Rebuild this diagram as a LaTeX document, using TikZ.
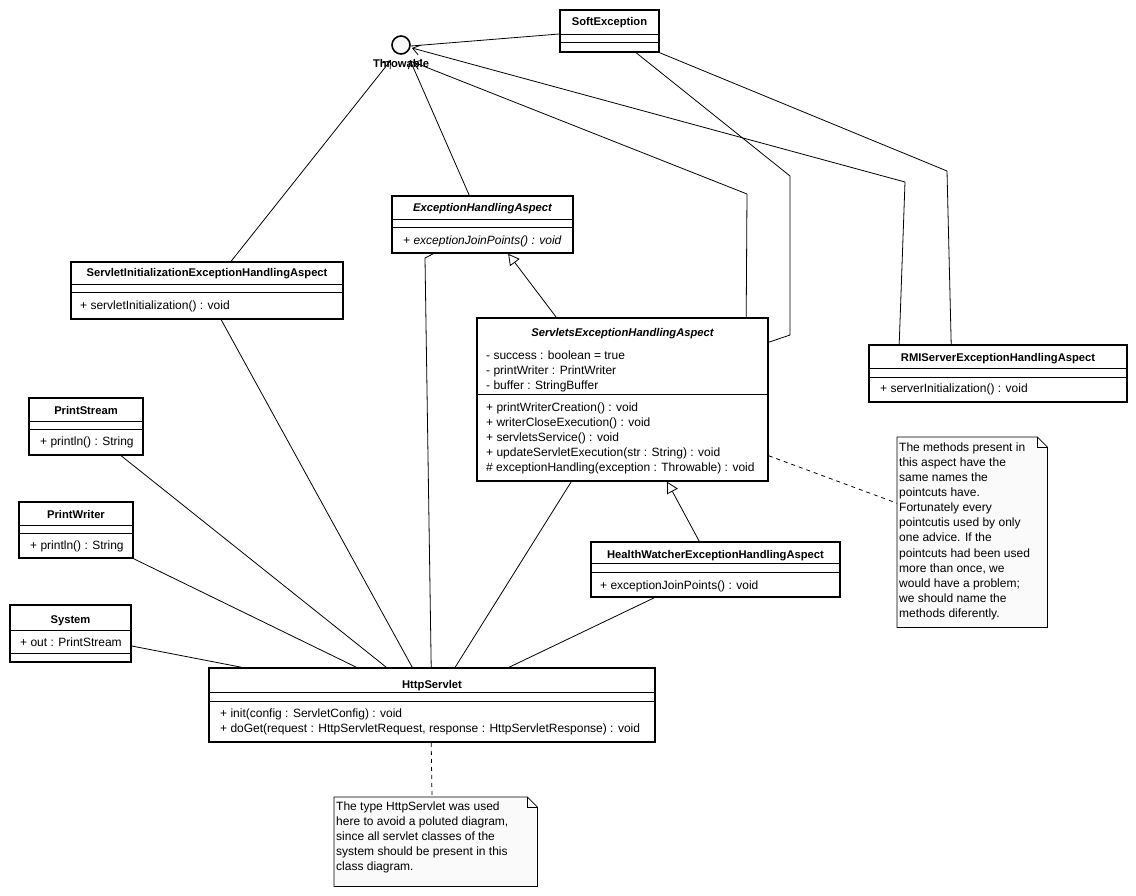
\documentclass[tikz,border=0pt]{standalone}
\usepackage{fontspec}
\setmainfont{Liberation Sans}
\usetikzlibrary{arrows.meta,calc}
\tikzset{
  cls/.style={draw, line width=1.6pt, inner sep=0pt, fill=white},
  sepl/.style={line width=0.9pt},
  ttl/.style={font=\fontsize{11.2}{13}\selectfont\bfseries, inner sep=0pt, anchor=base},
  ttli/.style={font=\fontsize{11.2}{13}\selectfont\bfseries\itshape, inner sep=0pt, anchor=base},
  mem/.style={font=\fontsize{12}{14}\selectfont, inner sep=0pt, anchor=base west},
  memi/.style={font=\fontsize{12}{14}\selectfont\itshape, inner sep=0pt, anchor=base west},
  link/.style={line width=0.8pt},
  dep/.style={link, -{Straight Barb[length=7pt,width=10pt]}},
  gen/.style={link, -{Triangle[open,length=11pt,width=12pt,fill=white]}},
  notel/.style={link, dash pattern=on 4pt off 4pt},
  notebox/.style={inner sep=0pt},
  notetxt/.style={font=\fontsize{12}{15.1}\selectfont, align=left, inner sep=0pt, anchor=north west},
}
\begin{document}
\begin{tikzpicture}[x=1pt,y=-1pt]
\useasboundingbox[fill=white] (0,0) rectangle (1136,896);

% ---------- Throwable interface ----------
\node[circle, draw, line width=1.6pt, minimum size=18pt, inner sep=0pt, fill=black!3] (thr) at (401,45) {};
\node[ttl] (thrl) at (401,68) {Throwable};

% ---------- classes ----------
\node[cls, minimum width=99pt, minimum height=42pt] (soft) at (609.5,31) {};
\draw[sepl] (soft.west |- 0,34) -- (soft.east |- 0,34);
\draw[sepl] (soft.west |- 0,42) -- (soft.east |- 0,42);
\node[ttl] (softt) at (609.5,26) {SoftException};

\node[cls, minimum width=181pt, minimum height=57pt] (eha) at (482.5,224.5) {};
\draw[sepl] (eha.west |- 0,219) -- (eha.east |- 0,219);
\draw[sepl] (eha.west |- 0,227) -- (eha.east |- 0,227);
\node[ttli] (ehat) at (482.5,212) {ExceptionHandlingAspect};
\node[memi] (eham) at (403,244.2) {+ exceptionJoinPoints() : void};

\node[cls, minimum width=272pt, minimum height=57pt] (sinit) at (207,290.5) {};
\draw[sepl] (sinit.west |- 0,284) -- (sinit.east |- 0,284);
\draw[sepl] (sinit.west |- 0,292) -- (sinit.east |- 0,292);
\node[ttl] (sinitt) at (207,277) {ServletInitializationExceptionHandlingAspect};
\node[mem] (sinitm) at (80,309.2) {+ servletInitialization() : void};

\node[cls, minimum width=291pt, minimum height=163pt] (seh) at (622.5,399.5) {};
\draw[sepl] (seh.west |- 0,394) -- (seh.east |- 0,394);
\node[ttli] (seht) at (622.5,336) {ServletsExceptionHandlingAspect};
\node[mem] (seha1) at (486,359.2) {- success : boolean = true};
\node[mem] (seha2) at (486,374.2) {- printWriter : PrintWriter};
\node[mem] (seha3) at (486,389.2) {- buffer : StringBuffer};
\node[mem] (sehm1) at (486,411.2) {+ printWriterCreation() : void};
\node[mem] (sehm2) at (486,426.2) {+ writerCloseExecution() : void};
\node[mem] (sehm3) at (486,441.2) {+ servletsService() : void};
\node[mem] (sehm4) at (486,456.2) {+ updateServletExecution(str : String) : void};
\node[mem] (sehm5) at (486,471.2) {\# exceptionHandling(exception : Throwable) : void};

\node[cls, minimum width=258pt, minimum height=57pt] (rmi) at (998,373.5) {};
\draw[sepl] (rmi.west |- 0,368) -- (rmi.east |- 0,368);
\draw[sepl] (rmi.west |- 0,377) -- (rmi.east |- 0,377);
\node[ttl] (rmit) at (998,361) {RMIServerExceptionHandlingAspect};
\node[mem] (rmim) at (880,392.2) {+ serverInitialization() : void};

\node[cls, minimum width=114pt, minimum height=57pt] (pstream) at (86,426.5) {};
\draw[sepl] (pstream.west |- 0,421) -- (pstream.east |- 0,421);
\draw[sepl] (pstream.west |- 0,429) -- (pstream.east |- 0,429);
\node[ttl] (pstreamt) at (86,414) {PrintStream};
\node[mem] (pstreamm) at (40,445.2) {+ println() : String};

\node[cls, minimum width=114pt, minimum height=56pt] (pwriter) at (76,530) {};
\draw[sepl] (pwriter.west |- 0,525) -- (pwriter.east |- 0,525);
\draw[sepl] (pwriter.west |- 0,533) -- (pwriter.east |- 0,533);
\node[ttl] (pwritert) at (76,518) {PrintWriter};
\node[mem] (pwriterm) at (30,549.2) {+ println() : String};

\node[cls, minimum width=121pt, minimum height=57pt] (system) at (70.5,633.5) {};
\draw[sepl] (system.west |- 0,630) -- (system.east |- 0,630);
\draw[sepl] (system.west |- 0,653) -- (system.east |- 0,653);
\node[ttl] (systemt) at (70.5,623) {System};
\node[mem] (systema) at (20,646.2) {+ out : PrintStream};

\node[cls, minimum width=249pt, minimum height=55pt] (hw) at (715.5,569.5) {};
\draw[sepl] (hw.west |- 0,563) -- (hw.east |- 0,563);
\draw[sepl] (hw.west |- 0,572) -- (hw.east |- 0,572);
\node[ttl] (hwt) at (715.5,558) {HealthWatcherExceptionHandlingAspect};
\node[mem] (hwm) at (600,589.2) {+ exceptionJoinPoints() : void};

\node[cls, minimum width=446pt, minimum height=74pt] (http) at (432,705) {};
\draw[sepl] (http.west |- 0,692) -- (http.east |- 0,692);
\draw[sepl] (http.west |- 0,701) -- (http.east |- 0,701);
\node[ttl] (httpt) at (432,688) {HttpServlet};
\node[mem] (httpm1) at (220,717.2) {+ init(config : ServletConfig) : void};
\node[mem] (httpm2) at (220,732.2) {+ doGet(request : HttpServletRequest, response : HttpServletResponse) : void};

% ---------- notes ----------
\node[notebox, minimum width=203pt, minimum height=89pt, anchor=north west] (note1) at (334,797) {};
\draw[line width=0.8pt, fill=black!2] (note1.north west) -- ($(note1.north east)+(-10,0)$) -- ($(note1.north east)+(0,10)$) -- (note1.south east) -- (note1.south west) -- cycle;
\draw[line width=0.8pt] ($(note1.north east)+(-10,0)$) -- ($(note1.north east)+(-10,10)$) -- ($(note1.north east)+(0,10)$);
\node[notetxt] (note1t) at (336,801.5) {The type HttpServlet was used\\here to avoid a poluted diagram,\\since all servlet classes of the\\system should be present in this\\class diagram.};

\node[notebox, minimum width=150pt, minimum height=190pt, anchor=north west] (note2) at (897,437) {};
\draw[line width=0.8pt, fill=black!2] (note2.north west) -- ($(note2.north east)+(-10,0)$) -- ($(note2.north east)+(0,10)$) -- (note2.south east) -- (note2.south west) -- cycle;
\draw[line width=0.8pt] ($(note2.north east)+(-10,0)$) -- ($(note2.north east)+(-10,10)$) -- ($(note2.north east)+(0,10)$);
\node[notetxt] (note2t) at (899,442.5) {The methods present in\\this aspect have the\\same names the\\pointcuts have.\\Fortunately every\\pointcutis used by only\\one advice. If the\\pointcuts had been used\\more than once, we\\would have a problem;\\we should name the\\methods diferently.};

% ---------- connectors ----------
\draw[link] ($(soft.west)+(0,3)$) -- ($(thr)+(10,1)$);
\draw[link] ($(soft.south west)+(77,0)$) -- (790,176) -- (790,335) -- ($(seh.north east)+(0,25)$);
\draw[link] (soft.south east) -- (947,171) -- ($(rmi.north west)+(83,0)$);
\draw[dep] ($(rmi.north west)+(31,0)$) -- (905,182) -- ($(thr)+(11,3)$);
\draw[dep] ($(seh.north west)+(270,0)$) -- (747,194) -- ($(thr)+(12,17)$);
\draw[dep] ($(eha.north west)+(78,0)$) -- ($(thr)+(9,15)$);
\draw[dep] ($(sinit.north west)+(161,0)$) -- ($(thr)+(-10,15)$);

\draw[link] ($(eha.south west)+(42,0)$) -- (425,258) -- ($(http.north west)+(223,0)$);
\draw[gen] ($(seh.north west)+(80,0)$) -- ($(eha.south west)+(117,0)$);
\draw[gen] ($(hw.north west)+(109,0)$) -- ($(seh.south west)+(191,0)$);
\draw[link] ($(hw.south west)+(64,0)$) -- ($(http.north west)+(301,0)$);
\draw[link] ($(seh.south west)+(95,0)$) -- ($(http.north west)+(247,0)$);
\draw[link] ($(sinit.south west)+(151,0)$) -- ($(http.north west)+(204,0)$);
\draw[link] ($(pstream.south west)+(93,0)$) -- ($(http.north west)+(178,0)$);
\draw[link] (pwriter.south east) -- ($(http.north west)+(148,0)$);
\draw[link] ($(system.east)+(0,12.5)$) -- ($(http.north west)+(33,0)$);

\draw[notel] ($(http.south west)+(223,0)$) -- ($(note1.north west)+(98,0)$);
\draw[notel] ($(seh.south east)+(0,-26)$) -- ($(note2.west)+(0,-29)$);
\end{tikzpicture}
\end{document}
